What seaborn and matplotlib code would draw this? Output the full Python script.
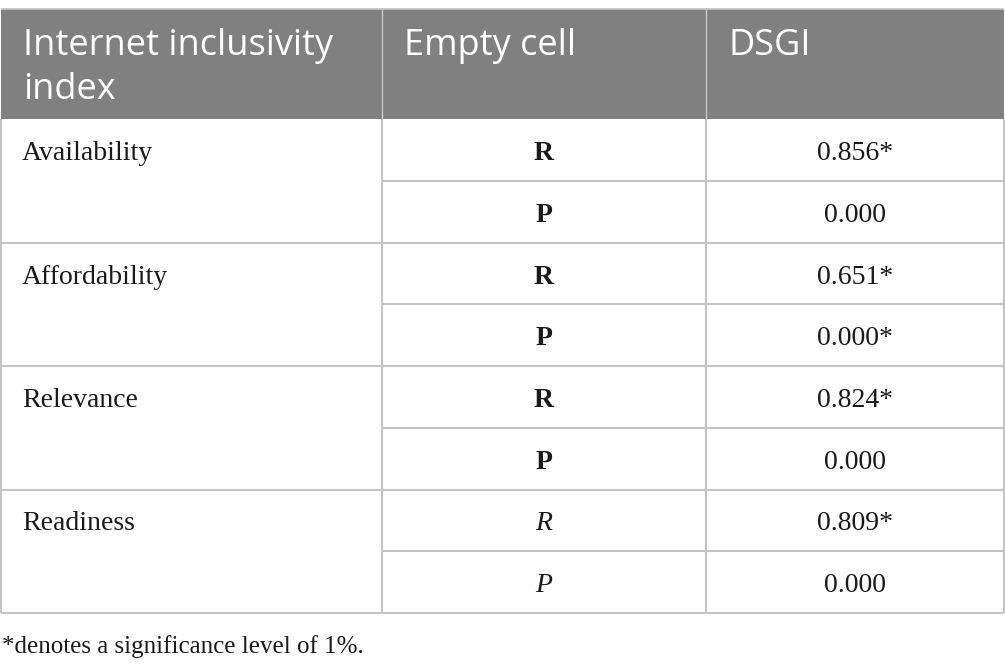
"""Correlation table: internet inclusivity index vs DSGI."""

import matplotlib

matplotlib.use("Agg")
import matplotlib.pyplot as plt
import seaborn as sns


HEADERS = ["Internet inclusivity\nindex", "Empty cell", "DSGI"]
INDICES = ["Availability", "Affordability", "Relevance", "Readiness"]
STATS = ["R", "P"]
DSGI_VALUES = ["0.856*", "0.000", "0.651*", "0.000*", "0.824*", "0.000", "0.809*", "0.000"]
ITALIC_STATS = ["Readiness"]
FOOTNOTE = "*denotes a significance level of 1%."

W, H = 1005, 672
COL_EDGES = [1, 382, 706, 1004]
HEADER_TOP, HEADER_BOTTOM = 9, 119
ROW_H = 61.75
HEAD_BG = "#808080"
LINE = "#c4c4c4"
SANS = "Open Sans"
SERIF = "Liberation Serif"


def main() -> None:
    sns.set_style("white")
    fig = plt.figure(figsize=(W / 100, H / 100), dpi=100)
    ax = fig.add_axes([0, 0, 1, 1])
    ax.set_xlim(0, W)
    ax.set_ylim(H, 0)
    ax.axis("off")

    # header band
    ax.fill_between([COL_EDGES[0], COL_EDGES[-1]], HEADER_TOP, HEADER_BOTTOM, color=HEAD_BG, lw=0)
    ax.hlines(HEADER_TOP, COL_EDGES[0], COL_EDGES[-1], color=LINE, lw=1.2)
    for x in COL_EDGES[1:-1]:
        ax.vlines(x, HEADER_TOP, HEADER_BOTTOM, color="#c8c8c8", lw=1.0)
    for left, head in zip(COL_EDGES[:-1], HEADERS):
        for k, line in enumerate(head.split("\n")):
            ax.text(left + 22, 55 + 44 * k, line, color="white", fontsize=26,
                    family=SANS, va="baseline", ha="left")

    # body rows
    n_rows = len(INDICES) * len(STATS)
    bottom = HEADER_BOTTOM + ROW_H * n_rows
    for i, name in enumerate(INDICES):
        top = HEADER_BOTTOM + ROW_H * len(STATS) * i
        ax.text(COL_EDGES[0] + 21, top + 41, name, fontsize=20, family=SERIF,
                va="baseline", ha="left", color="#1a1a1a")
        for j, stat in enumerate(STATS):
            r = i * len(STATS) + j
            y = top + ROW_H * j
            italic = name in ITALIC_STATS
            ax.text((COL_EDGES[1] + COL_EDGES[2]) / 2, y + 41, stat, fontsize=20,
                    family=SERIF, va="baseline", ha="center", color="#1a1a1a",
                    weight="normal" if italic else "bold",
                    style="italic" if italic else "normal")
            ax.text((COL_EDGES[2] + COL_EDGES[3]) / 2, y + 41, DSGI_VALUES[r], fontsize=20,
                    family=SERIF, va="baseline", ha="center", color="#1a1a1a")
            if j > 0:
                ax.hlines(y, COL_EDGES[1], COL_EDGES[-1], color=LINE, lw=1.5)
        ax.hlines(top + ROW_H * len(STATS), COL_EDGES[0], COL_EDGES[-1], color=LINE, lw=1.5)

    for x in COL_EDGES:
        ax.vlines(x, HEADER_BOTTOM, bottom, color=LINE, lw=1.5)

    ax.text(COL_EDGES[0] + 1, bottom + 40, FOOTNOTE, fontsize=18, family=SERIF,
            va="baseline", ha="left", color="#1a1a1a")

    fig.savefig("out.png", dpi=100)
    plt.close(fig)


if __name__ == "__main__":
    main()
